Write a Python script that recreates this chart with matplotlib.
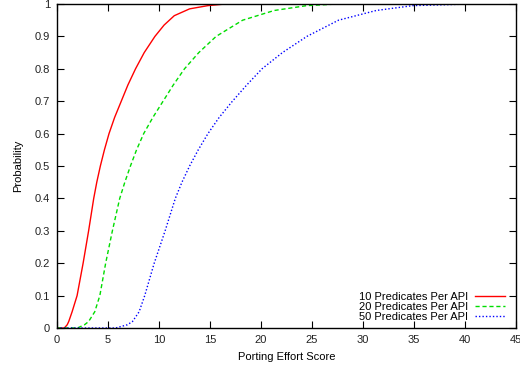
import matplotlib
matplotlib.use("Agg")
import matplotlib.pyplot as plt

plt.rcParams["font.family"] = ["Liberation Sans", "DejaVu Sans"]

# CDF readings per series (score, probability)
x_10 = [0, 0.72, 1.0, 1.15, 1.48, 1.97, 2.56, 3.1, 3.6, 3.9, 4.25, 4.65, 5.1, 5.65, 6.3, 6.95, 7.7, 8.55, 9.6, 10.5, 11.5, 13.0, 14.8, 16.5]
p_10 = [0, 0, 0.01, 0.02, 0.05, 0.1, 0.2, 0.3, 0.4, 0.45, 0.5, 0.55, 0.6, 0.65, 0.7, 0.75, 0.8, 0.85, 0.9, 0.935, 0.964, 0.985, 0.995, 1.0]

x_20 = [0, 2.0, 2.7, 3.1, 3.7, 4.2, 4.77, 5.43, 6.15, 6.65, 7.2, 7.8, 8.5, 9.4, 10.4, 11.4, 12.5, 13.9, 15.6, 18.2, 21.3, 24.5, 27.5]
p_20 = [0, 0, 0.01, 0.02, 0.05, 0.1, 0.2, 0.3, 0.4, 0.45, 0.5, 0.55, 0.6, 0.65, 0.7, 0.75, 0.8, 0.85, 0.9, 0.95, 0.98, 0.995, 1.0]

x_50 = [0, 5.75, 6.9, 7.4, 8.05, 8.6, 9.53, 10.6, 11.6, 12.25, 13.0, 13.85, 14.8, 15.9, 17.2, 18.6, 20.1, 22.1, 24.5, 27.6, 31.3, 34.9, 40.5]
p_50 = [0, 0, 0.01, 0.02, 0.05, 0.1, 0.2, 0.3, 0.4, 0.45, 0.5, 0.55, 0.6, 0.65, 0.7, 0.75, 0.8, 0.85, 0.9, 0.95, 0.98, 0.995, 1.0]

labels = ["10 Predicates Per API", "20 Predicates Per API", "50 Predicates Per API"]
xticks = [0, 5, 10, 15, 20, 25, 30, 35, 40, 45]
yticks = [0, 0.1, 0.2, 0.3, 0.4, 0.5, 0.6, 0.7, 0.8, 0.9, 1]

fig = plt.figure(figsize=(5.2, 3.66), dpi=100)
ax = fig.add_axes([57 / 520, 38 / 366, 459 / 520, 324 / 366])

ax.plot(x_10, p_10, color="#ff0000", lw=1.0, label=labels[0])
ax.plot(x_20, p_20, color="#00dd00", lw=1.0, linestyle=(0, (3, 2)), label=labels[1])
ax.plot(x_50, p_50, color="#0000ff", lw=1.0, linestyle=(0, (1, 1.5)), label=labels[2])

ax.set_xlim(0, 45)
ax.set_ylim(0, 1)
ax.set_xticks(xticks)
ax.set_xticklabels([str(t) for t in xticks])
ax.set_yticks(yticks)
ax.set_yticklabels(["0", "0.1", "0.2", "0.3", "0.4", "0.5", "0.6", "0.7", "0.8", "0.9", "1"])
ax.tick_params(direction="in", length=5, width=0.8, top=True, right=True,
               labelsize=8, labelcolor="#222222", pad=5)
for s in ax.spines.values():
    s.set_linewidth(1.0)

ax.set_xlabel("Porting Effort Score", fontsize=8, labelpad=5)
ax.set_ylabel("Probability", fontsize=8, labelpad=8)

ax.legend(loc="lower right", markerfirst=False, frameon=False, fontsize=8,
          handlelength=2.7, handletextpad=0.6, labelspacing=0.0,
          borderaxespad=0.0, bbox_to_anchor=(0.985, 0.005))

plt.savefig("out.png", dpi=100)
